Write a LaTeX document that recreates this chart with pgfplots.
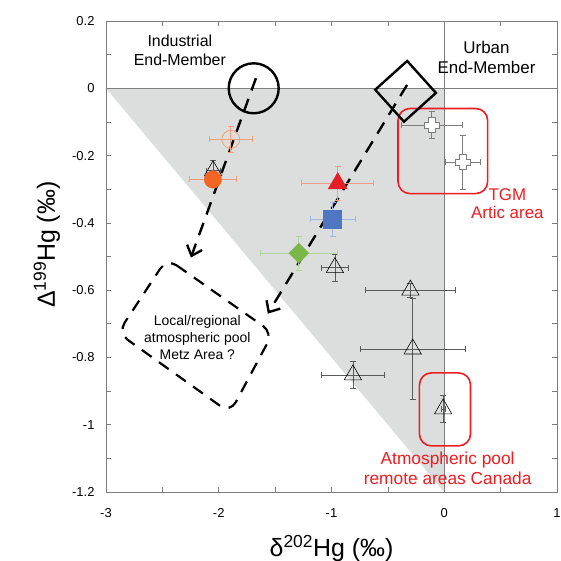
\documentclass[border=0pt]{standalone}
\usepackage{pgfplots}
\pgfplotsset{compat=1.18}
\usepackage{fontspec}
\setmainfont{Liberation Sans}
\usetikzlibrary{arrows.meta}
\definecolor{shade}{RGB}{220,222,222}
\definecolor{axgray}{RGB}{125,125,125}
\definecolor{orng}{RGB}{242,101,34}
\definecolor{lorng}{RGB}{240,160,120}
\definecolor{rd}{RGB}{228,30,38}
\definecolor{lrd}{RGB}{240,155,140}
\definecolor{bl}{RGB}{79,118,192}
\definecolor{lbl}{RGB}{165,180,218}
\definecolor{gr}{RGB}{122,182,72}
\definecolor{lgr}{RGB}{178,212,150}
\definecolor{boxred}{RGB}{235,30,35}
\definecolor{ebgray}{RGB}{90,90,90}
\pgfdeclareplotmark{fatplus}{%
  \pgfpathmoveto{\pgfqpoint{-0.45\pgfplotmarksize}{\pgfplotmarksize}}%
  \pgfpathlineto{\pgfqpoint{0.45\pgfplotmarksize}{\pgfplotmarksize}}%
  \pgfpathlineto{\pgfqpoint{0.45\pgfplotmarksize}{0.45\pgfplotmarksize}}%
  \pgfpathlineto{\pgfqpoint{\pgfplotmarksize}{0.45\pgfplotmarksize}}%
  \pgfpathlineto{\pgfqpoint{\pgfplotmarksize}{-0.45\pgfplotmarksize}}%
  \pgfpathlineto{\pgfqpoint{0.45\pgfplotmarksize}{-0.45\pgfplotmarksize}}%
  \pgfpathlineto{\pgfqpoint{0.45\pgfplotmarksize}{-\pgfplotmarksize}}%
  \pgfpathlineto{\pgfqpoint{-0.45\pgfplotmarksize}{-\pgfplotmarksize}}%
  \pgfpathlineto{\pgfqpoint{-0.45\pgfplotmarksize}{-0.45\pgfplotmarksize}}%
  \pgfpathlineto{\pgfqpoint{-\pgfplotmarksize}{-0.45\pgfplotmarksize}}%
  \pgfpathlineto{\pgfqpoint{-\pgfplotmarksize}{0.45\pgfplotmarksize}}%
  \pgfpathlineto{\pgfqpoint{-0.45\pgfplotmarksize}{0.45\pgfplotmarksize}}%
  \pgfpathclose
  \pgfusepathqfillstroke
}
\begin{document}
\begin{tikzpicture}
\begin{axis}[name=ax, scale only axis, width=451bp, height=471bp,
  xmin=-3, xmax=1, ymin=-1.2, ymax=0.2,
  xtick={-3,-2,-1,0,1}, xticklabels={-3,-2,-1,0,1},
  minor xtick={-2.5,-1.5,-0.5,0.5},
  ytick={-1.2,-1,-0.8,-0.6,-0.4,-0.2,0,0.2},
  yticklabels={-1.2,-1,-0.8,-0.6,-0.4,-0.2,0,0.2},
  minor ytick={-1.1,-0.9,-0.7,-0.5,-0.3,-0.1,0.1},
  tick align=inside, major tick length=5bp, minor tick length=5bp,
  axis line style={axgray, line width=0.6pt},
  every tick/.style={axgray, line width=0.6pt},
  ticklabel style={font=\fontsize{13}{15}\selectfont},
  xticklabel style={yshift=-13bp},
  yticklabel style={xshift=-8bp},
  xlabel={δ\textsuperscript{202}Hg (‰)},
  ylabel={Δ\textsuperscript{199}Hg (‰)},
  every axis x label/.style={at={(axis description cs:0.5,-0.119)}, anchor=center, font=\fontsize{25}{29}\selectfont},
  every axis y label/.style={at={(axis description cs:-0.131,0.525)}, rotate=90, anchor=center, font=\fontsize{25}{29}\selectfont},
  clip=false,
]
% shaded triangle
\addplot[fill=shade, draw=none] coordinates {(-3,0) (0,0) (0,-1.2)} -- cycle;
\addplot[axgray, line width=0.6pt] coordinates {(0,0.2) (0,-1.2)};
\addplot[axgray, line width=0.6pt] coordinates {(-3,0) (1,0)};

% red boxes
\addplot[boxred, line width=1.6pt, rounded corners=12bp] coordinates {(-0.41,-0.06) (0.385,-0.06) (0.385,-0.313) (-0.41,-0.313)} -- cycle;
\addplot[boxred, line width=1.6pt, rounded corners=12bp] coordinates {(-0.22,-0.846) (0.233,-0.846) (0.233,-1.063) (-0.22,-1.063)} -- cycle;

% end-members
\addplot[only marks, mark=o, mark size=25bp, mark options={line width=2.4pt, draw=black, fill=white}] coordinates {(-1.69,0.0)};
\addplot[only marks, mark=square, mark size=21.5bp, mark options={rotate=42, line width=2.4pt, draw=black, fill=white}] coordinates {(-0.343,-0.009)};

% dashed arrows
\addplot[black, line width=2.4pt, dash pattern=on 13bp off 9bp, -{Straight Barb[length=9bp,width=16bp,line width=2.4pt]}] coordinates {(-1.67,0.03) (-2.247,-0.503)};
\addplot[black, line width=2.4pt, dash pattern=on 13bp off 9bp, -{Straight Barb[length=9bp,width=16bp,line width=2.4pt]}] coordinates {(-0.33,0.01) (-1.565,-0.67)};

% dashed pool
\addplot[black, line width=2.2pt, dash pattern=on 12bp off 9bp, rounded corners=12bp] coordinates {(-2.46,-0.506) (-1.52,-0.727) (-1.90,-0.965) (-2.894,-0.727)} -- cycle;

% data: open circle
\addplot[only marks, mark=o, mark size=9bp, lorng, mark options={line width=0.8pt},
  error bars/.cd, x dir=both, x explicit, y dir=both, y explicit,
  error bar style={lorng, line width=0.8pt}, error mark options={rotate=90, mark size=3bp, lorng, line width=0.8pt}]
  coordinates {(-1.893,-0.152) +- (0.19,0.04)};
% open triangles
\addplot[only marks, mark=triangle, mark size=10bp, black, mark options={line width=0.6pt},
  error bars/.cd, x dir=both, x explicit, y dir=both, y explicit,
  error bar style={ebgray, line width=0.7pt}, error mark options={rotate=90, mark size=3bp, ebgray, line width=0.7pt}]
  coordinates {
  (-2.05,-0.245) +- (0.06,0.03)
  (-0.97,-0.533) +- (0.12,0.04)
  (-0.30,-0.600) +- (0.40,0.02)
  (-0.28,-0.775) +- (0.465,0.15)
  (-0.81,-0.852) +- (0.28,0.04)
  (-0.01,-0.953) +- (0.02,0.04)
  };
% orange filled circle
\addplot[only marks, mark=*, mark size=8.7bp, orng, mark options={draw=orng, fill=orng},
  error bars/.cd, x dir=both, x explicit, y dir=both, y explicit,
  error bar style={lorng, line width=0.8pt}, error mark options={rotate=90, mark size=3bp, lorng, line width=0.8pt}]
  coordinates {(-2.052,-0.271) +- (0.205,0.02)};
% red triangle
\addplot[only marks, mark=triangle*, mark size=11bp, rd, mark options={draw=rd, fill=rd},
  error bars/.cd, x dir=both, x explicit, y dir=both, y explicit,
  error bar style={lrd, line width=0.8pt}, error mark options={rotate=90, mark size=3bp, lrd, line width=0.8pt}]
  coordinates {(-0.945,-0.283) +- (0.32,0.05)};
% blue square
\addplot[only marks, mark=square*, mark size=9bp, bl, mark options={draw=bl, fill=bl},
  error bars/.cd, x dir=both, x explicit, y dir=both, y explicit,
  error bar style={lbl, line width=0.8pt}, error mark options={rotate=90, mark size=3bp, lbl, line width=0.8pt}]
  coordinates {(-0.99,-0.39) +- (0.2,0.05)};
% green diamond
\addplot[only marks, mark=square*, mark size=7bp, gr, mark options={rotate=45, draw=gr, fill=gr},
  error bars/.cd, x dir=both, x explicit, y dir=both, y explicit,
  error bar style={lgr, line width=0.8pt}, error mark options={rotate=90, mark size=3bp, lgr, line width=0.8pt}]
  coordinates {(-1.29,-0.49) +- (0.34,0.05)};
% open crosses
\addplot[only marks, mark=fatplus, mark size=7.5bp, mark options={draw=axgray, fill=white, line width=0.7pt},
  error bars/.cd, x dir=both, x explicit, y dir=both, y explicit,
  error bar style={axgray, line width=0.7pt}, error mark options={rotate=90, mark size=3bp, axgray, line width=0.7pt}]
  coordinates {(-0.112,-0.11) +- (0.27,0.04) (0.162,-0.22) +- (0.155,0.08)};

% texts
\node[align=center, font=\fontsize{16}{19}\selectfont] at (axis cs:-2.345,0.113) {Industrial\\End-Member};
\node[align=center, font=\fontsize{17}{20}\selectfont] at (axis cs:0.375,0.092) {Urban\\End-Member};
\node[align=center, font=\fontsize{14}{17}\selectfont] at (axis cs:-2.19,-0.74) {Local/regional\\atmospheric pool\\Metz Area ?};
\node[align=center, text=boxred, font=\fontsize{17}{19}\selectfont] at (axis cs:0.56,-0.343) {TGM\\Artic area};
\node[align=center, text=boxred, font=\fontsize{17.4}{20}\selectfont] at (axis cs:0.03,-1.129) {Atmospheric pool\\remote areas Canada};
\end{axis}
\pgfresetboundingbox
\path ([xshift=-106bp,yshift=-69bp]ax.south west) rectangle ([xshift=4bp,yshift=21bp]ax.north east);
\end{tikzpicture}
\end{document}
